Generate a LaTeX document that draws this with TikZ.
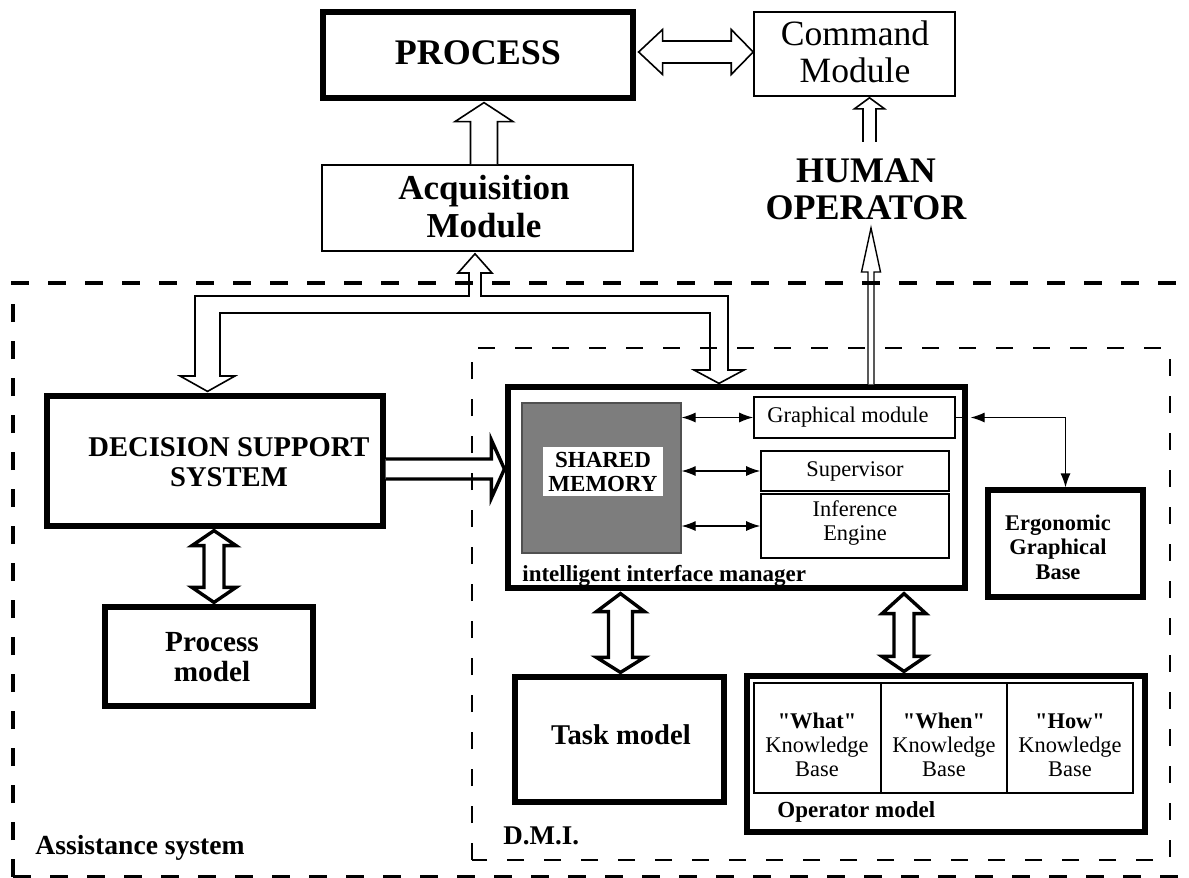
\documentclass[tikz,border=0pt]{standalone}
\usepackage{fontspec}
\setmainfont{Liberation Serif}[Ligatures=TeXOff]
\usetikzlibrary{arrows.meta,calc,fit}
\definecolor{smgray}{RGB}{125,125,125}
\definecolor{smedge}{RGB}{80,80,80}

% hollow block arrows
\newcommand{\VDArr}[7][]{% top tip, bottom tip, half shaft, half head, head len top, head len bottom
 \draw[harrow,#1] (#2) -- ($(#2)+(#5,#6)$) -- ($(#2)+(#4,#6)$) -- ($(#3)+(#4,-#7)$) -- ($(#3)+(#5,-#7)$) -- (#3) -- ($(#3)+(-#5,-#7)$) -- ($(#3)+(-#4,-#7)$) -- ($(#2)+(-#4,#6)$) -- ($(#2)+(-#5,#6)$) -- cycle;}
\newcommand{\HDArr}[7][]{% left tip, right tip, half shaft, half head, head len left, head len right
 \draw[harrow,#1] (#2) -- ($(#2)+(#6,-#5)$) -- ($(#2)+(#6,-#4)$) -- ($(#3)+(-#7,-#4)$) -- ($(#3)+(-#7,-#5)$) -- (#3) -- ($(#3)+(-#7,#5)$) -- ($(#3)+(-#7,#4)$) -- ($(#2)+(#6,#4)$) -- ($(#2)+(#6,#5)$) -- cycle;}
\newcommand{\VUArr}[6][]{% top tip, bottom base, half shaft, half head, head len
 \draw[harrow,#1] ($(#3)+(#4,0)$) -- ($(#2)+(#4,#6)$) -- ($(#2)+(#5,#6)$) -- (#2) -- ($(#2)+(-#5,#6)$) -- ($(#2)+(-#4,#6)$) -- ($(#3)+(-#4,0)$);}
\newcommand{\HRArr}[6][]{% left base, right tip, half shaft, half head, head len
 \draw[harrow,#1] ($(#2)+(0,-#4)$) -- ($(#3)+(-#6,-#4)$) -- ($(#3)+(-#6,-#5)$) -- (#3) -- ($(#3)+(-#6,#5)$) -- ($(#3)+(-#6,#4)$) -- ($(#2)+(0,#4)$);}

\tikzset{
 thickbox/.style={draw, line width=2.6pt, inner sep=0pt},
 thinbox/.style={draw, line width=0.8pt, inner sep=0pt},
 harrow/.style={draw, fill=white, line width=0.8pt, line join=miter},
 harrowthick/.style={line width=1.7pt},
 smallarr/.style={line width=0.6pt, {Latex[length=7pt,width=5pt]}-{Latex[length=7pt,width=5pt]}},
 assist/.style={line width=2pt, dash pattern=on 9pt off 9.5pt},
 dmi/.style={line width=1.1pt, dash pattern=on 8.5pt off 10pt},
 ftop/.style={font=\fontsize{18}{18.5}\selectfont\bfseries, align=center, inner sep=0pt},
 fcmd/.style={font=\fontsize{17.8}{18.5}\selectfont, align=center, inner sep=0pt},
 fmid/.style={font=\fontsize{14.3}{15}\selectfont\bfseries, align=center, inner sep=0pt},
 fsmb/.style={font=\fontsize{11.5}{12}\selectfont\bfseries, align=center, inner sep=0pt},
 fsmr/.style={font=\fontsize{11.2}{12}\selectfont, align=center, inner sep=0pt},
}

\begin{document}
\begin{tikzpicture}[x=0.5pt,y=-0.5pt]
\useasboundingbox (0,0) rectangle (1189,878);
\fill[white] (0,0) rectangle (1189,878);

% ---------- boxes ----------
\node[thickbox, fit={(323,12)(633,98)}] (process) {};
\node[ftop] (processtxt) at (478,53) {PROCESS};

\node[thinbox, fit={(754,12)(955,96)}] (cmd) {};
\node[fcmd] (cmdtxt) at (855,52) {Command\\Module};

\node[thinbox, fit={(322,165)(633,251)}] (acq) {};
\node[ftop, font=\fontsize{17.5}{19}\selectfont\bfseries] (acqtxt) at (484,207) {Acquisition\\Module};

\node[ftop] (human) at (866,189) {HUMAN\\OPERATOR};

\node[thickbox, fit={(47,396)(383,526)}] (dss) {};
\node[fmid] (dsstxt) at (229,462) {DECISION SUPPORT\\SYSTEM};

\node[thickbox, fit={(105,607)(313,706)}] (pm) {};
\node[fmid, font=\fontsize{14.6}{15}\selectfont\bfseries] (pmtxt) at (212,657) {Process\\model};

\node[thickbox, fit={(508,387)(965,588)}] (iim) {};
\node[draw=smedge, fill=smgray, line width=0.6pt, inner sep=0pt, fit={(522,403)(681,553)}] (sm) {};
\node[fsmb, fill=white, minimum width=60pt, minimum height=24.5pt] (smtxt) at (603,471.5) {SHARED\\MEMORY};
\node[thinbox, fsmr, fit={(754,397)(955,438)}] (gm) {};
\node[fsmr] (gmtxt) at (848,417) {Graphical module};
\node[thinbox, fsmr, fit={(761,451)(949,491)}] (sup) {};
\node[fsmr] (suptxt) at (855,471) {Supervisor};
\node[thinbox, fsmr, fit={(761,494)(949,558)}] (inf) {};
\node[fsmr] (inftxt) at (855,523) {Inference\\Engine};
\node[fsmb, anchor=west] (iimtxt) at (522,576) {intelligent interface manager};

\node[thickbox, fit={(988,490)(1143,597)}] (ergo) {};
\node[fsmb, font=\fontsize{11.2}{12.3}\selectfont\bfseries] (ergotxt) at (1058,547) {Ergonomic\\Graphical\\Base};

\node[thickbox, fit={(515,677)(724,802)}] (task) {};
\node[fmid] (tasktxt) at (621,735) {Task model};

\node[thickbox, fit={(747,676)(1145,832)}] (opm) {};
\node[thinbox, fit={(754,683)(881,793)}] (kwhat) {};
\node[thinbox, fit={(881,683)(1007,793)}] (kwhen) {};
\node[thinbox, fit={(1007,683)(1133,793)}] (khow) {};
\node[fsmr] (kwhattxt) at (817,745) {\textbf{"What"}\\Knowledge\\Base};
\node[fsmr] (kwhentxt) at (944,745) {\textbf{"When"}\\Knowledge\\Base};
\node[fsmr] (khowtxt) at (1070,745) {\textbf{"How"}\\Knowledge\\Base};
\node[fsmb, anchor=west] (opmtxt) at (777,812) {Operator model};

\node[fsmb, font=\fontsize{13.5}{14}\selectfont\bfseries, anchor=west] (dmitxt) at (503,836) {D.M.I.};
\node[fmid, font=\fontsize{13.8}{14}\selectfont\bfseries, anchor=west] (assisttxt) at (35,848) {Assistance system};

% ---------- hollow arrows ----------
\coordinate (pcL) at ($(process.east)+(3,-3)$);
\coordinate (pcR) at (cmd.west |- pcL);
\HDArr{pcL}{pcR}{11}{22.5}{24}{22}

\coordinate (apT) at ($(process.south)+(6,2)$);
\coordinate (apB) at (apT |- acq.north);
\VUArr{apT}{apB}{13.5}{29}{19}

\coordinate (hcT) at ($(cmd.south)+(15,1)$);
\coordinate (hcB) at ($(hcT)+(0,44)$);
\VUArr{hcT}{hcB}{6.5}{15}{11}

\coordinate (ihT) at (871,228);
\coordinate (ihB) at (ihT |- iim.north);
\VUArr[line width=0.7pt]{ihT}{ihB}{3}{9.5}{44}

\coordinate (diB) at ($(dss.east)+(0,8)$);
\coordinate (diT) at ($(iim.west |- diB)+(-1,0)$);
\HRArr[harrowthick]{diB}{diT}{10}{29}{13}

\coordinate (dpT) at ($(dss.south)+(-1,2)$);
\coordinate (dpB) at ($(dpT |- pm.north)+(0,-2)$);
\VDArr[harrowthick]{dpT}{dpB}{10}{22}{15}{15}

\coordinate (itT) at ($(iim.south -| task.north)+(1,3)$);
\coordinate (itB) at ($(itT |- task.north)+(0,-2)$);
\VDArr[harrowthick]{itT}{itB}{12}{24}{18}{15}

\coordinate (ioT) at ($(iim.south)+(167.5,3)$);
\coordinate (ioB) at ($(ioT |- opm.north)+(0,-2)$);
\VDArr[harrowthick]{ioT}{ioB}{10}{22}{20}{15}

% branching arrow from the acquisition module
\coordinate (aqT) at ($(acq.south)+(-2.5,2)$);
\coordinate (dsT) at ($(dss.north)+(-7.5,-2)$);
\coordinate (imT) at ($(iim.north)+(-17.5,-1)$);
\draw[harrow] (aqT) -- (492,273) -- (481,273) -- (481,296) -- (728,296) -- (728,370) -- (744,370)
  -- (imT) -- (694,370) -- (710,370) -- (710,313) -- (220,313) -- (220,376) -- (235,376)
  -- (dsT) -- (180,376) -- (195,376) -- (195,296) -- (469,296) -- (469,273) -- (458,273) -- cycle;

% ---------- small arrows ----------
\draw[smallarr] (sm.east |- gm.west) -- (gm.west);
\draw[smallarr] (sm.east |- sup.west) -- (sup.west);
\draw[smallarr] (sm.east |- inf.west) -- (inf.west);
\draw[line width=0.6pt] (gm.east) -- (gm.east -| iim.east);
\coordinate (geL) at ($(gm.east -| iim.east)+(3,0)$);
\draw[smallarr] (geL) -| (ergo.north);

% ---------- dashed frames ----------
\draw[assist] (13,877) -- (13,283) -- (1200,283);
\draw[assist] (13,877) -- (1200,877);
\draw[dmi] (472,860) -- (472,348) -- (1170,348) -- (1170,860) -- cycle;
\end{tikzpicture}
\end{document}
